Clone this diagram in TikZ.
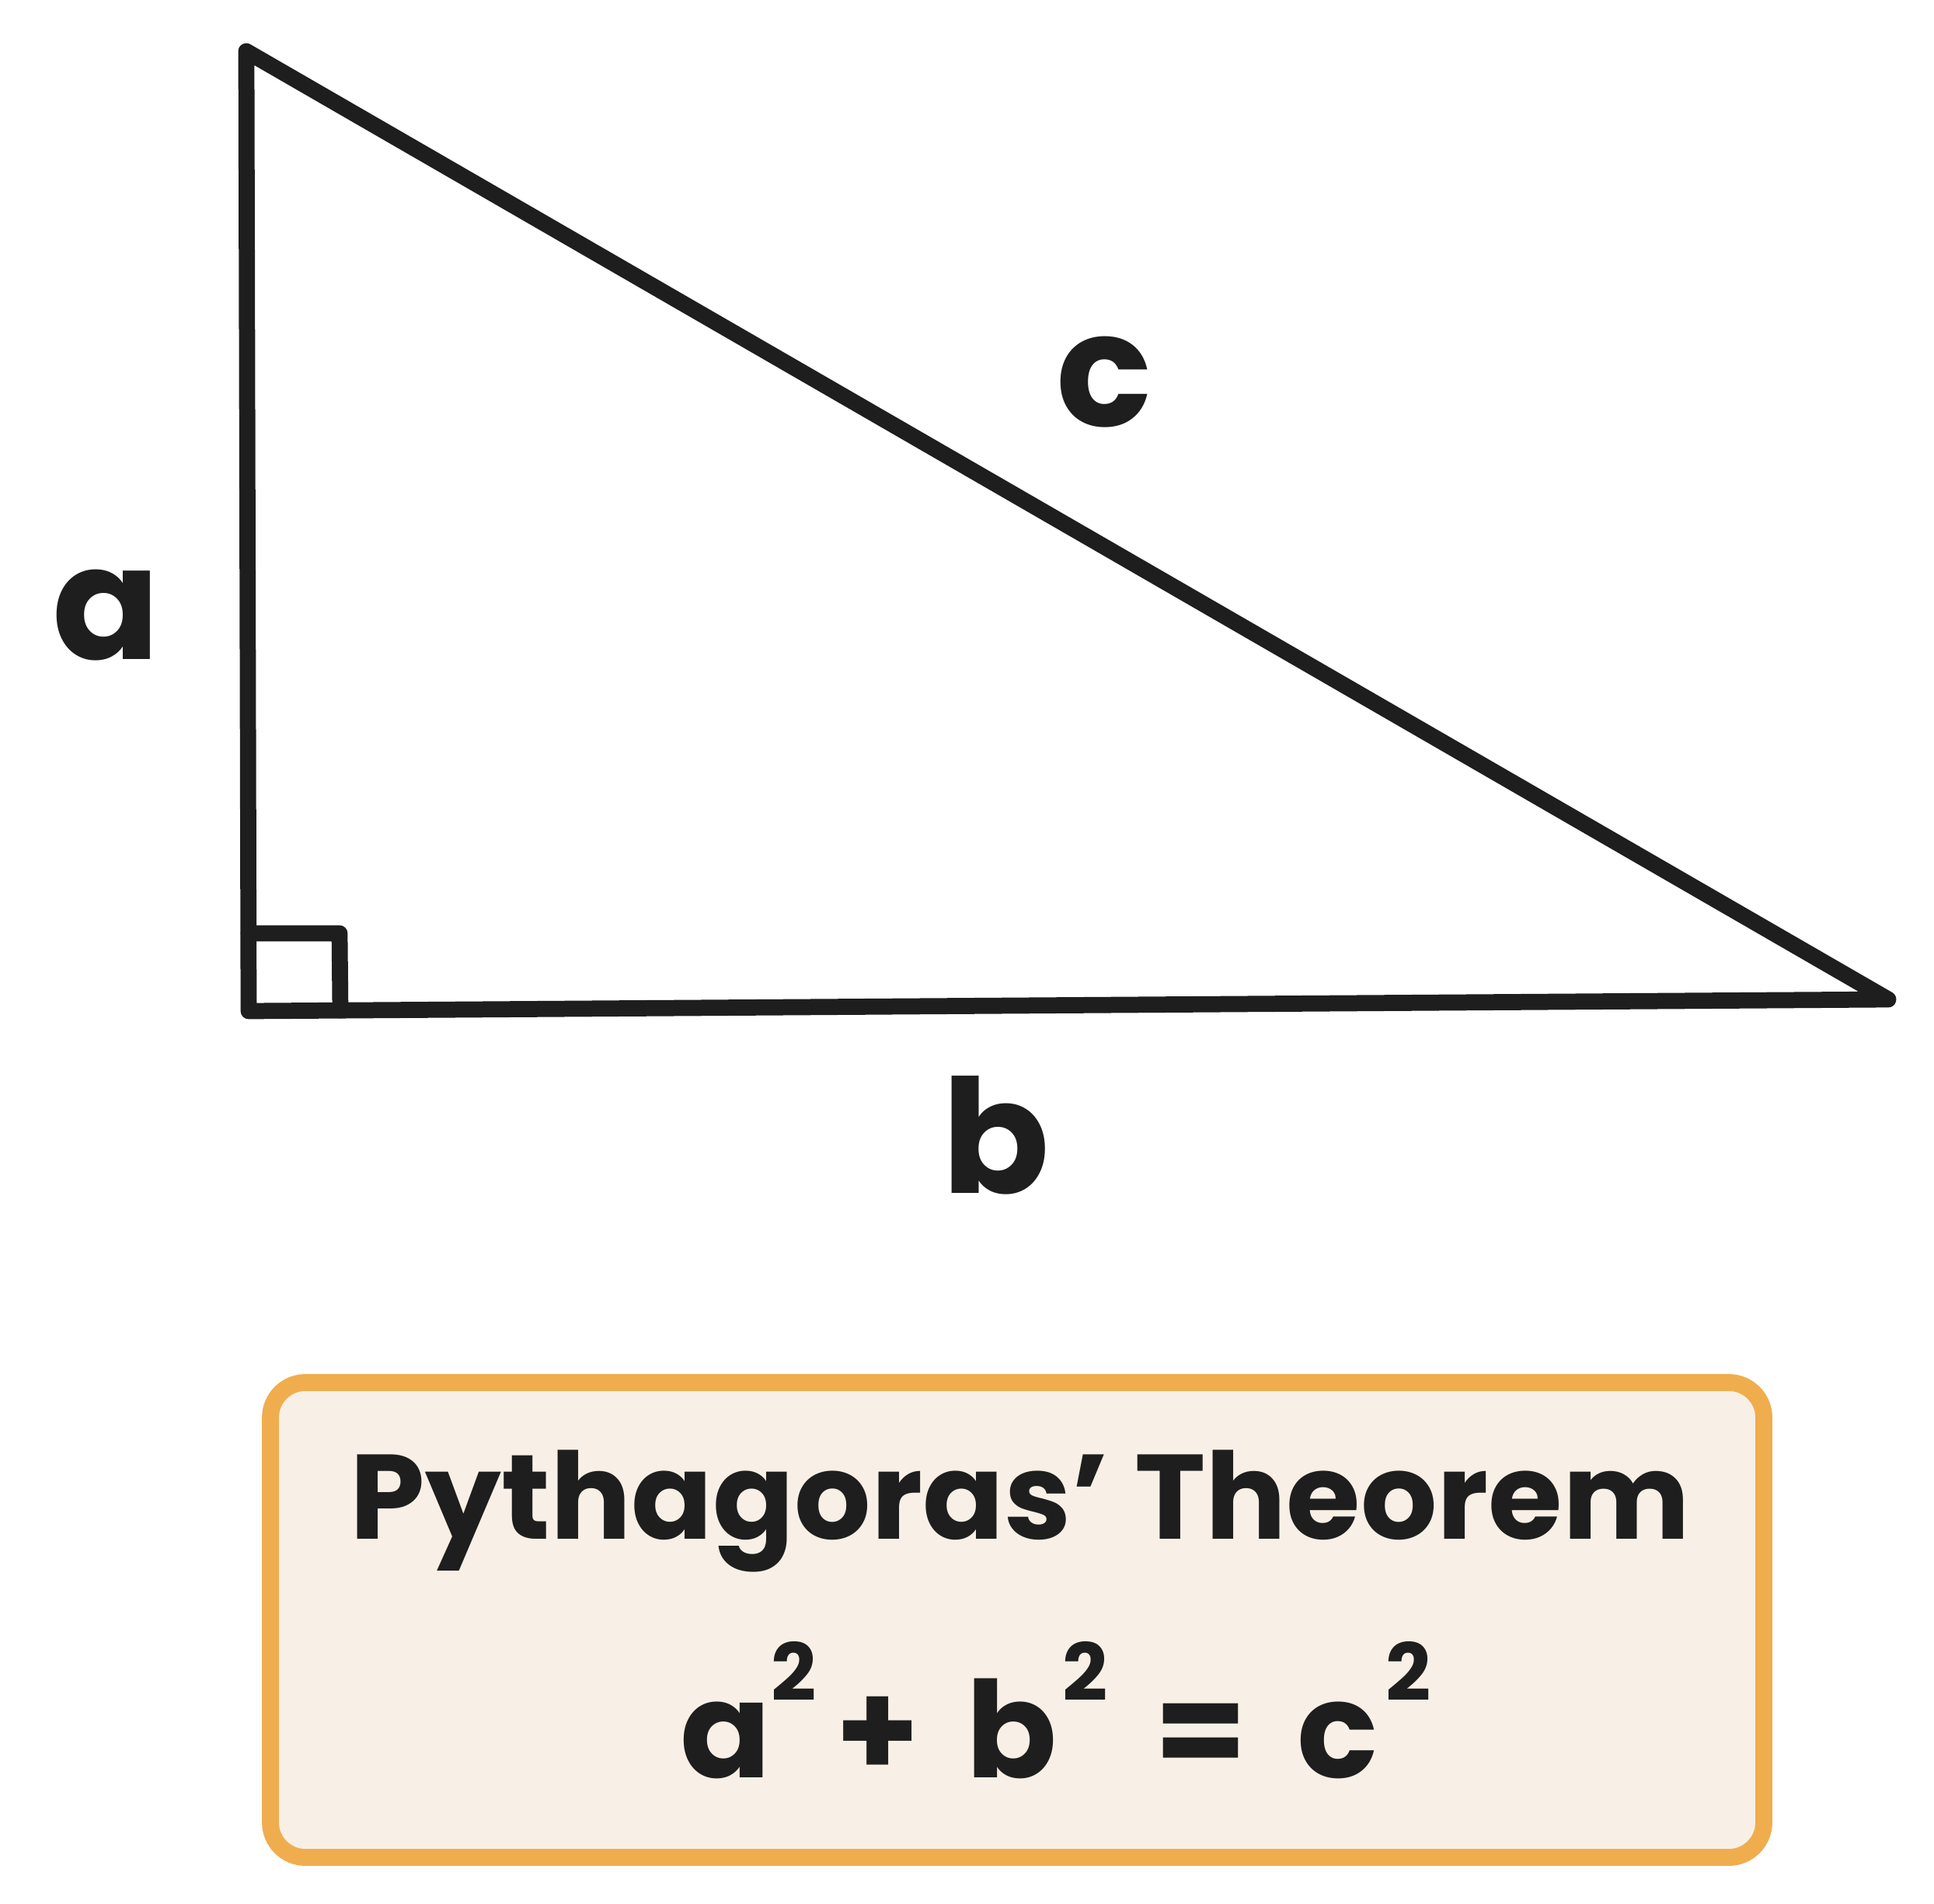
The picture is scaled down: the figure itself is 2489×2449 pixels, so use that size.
\documentclass[tikz,border=0pt]{standalone}
\usepackage{fontspec}
\setmainfont{Poppins}
\definecolor{ink}{HTML}{1E1E1E}
\definecolor{boxfill}{HTML}{F8F0E6}
\definecolor{boxline}{HTML}{F0AD4E}
\newcommand{\mysq}{\raisebox{28pt}{\fontsize{29}{30}\selectfont 2}}
\tikzset{
  edge/.style={draw=ink, line width=5.9pt, line join=round, line cap=round},
  lbl/.style={text=ink, font=\bfseries\fontsize{58}{60}\selectfont, inner sep=0pt},
  boxtext/.style={text=ink, font=\bfseries\fontsize{44}{46}\selectfont, inner sep=0pt, anchor=base},
}
\begin{document}
\begin{tikzpicture}[x=0.01cm,y=-0.01cm]
\useasboundingbox (0,0) rectangle (2489,2449);
% vertices
\coordinate (T) at (317,66);
\coordinate (L) at (320,1301);
\coordinate (R) at (2430,1286);
\coordinate (S1) at (320,1201);
\coordinate (S2) at (437,1201);
\coordinate (S3) at (438,1300);
\draw[edge] (T) -- (L) -- (R) -- cycle;
\draw[edge] (S1) -- (S2) -- (S3);
% labels
\node[lbl] (la) at (137,792) {a};
\node[lbl] (lc) at (1421,492) {c};
\node[lbl] (lb) at (1282,1461) {b};
% box
\draw[draw=boxline, fill=boxfill, line width=6.2pt, rounded corners=0.45cm]
  (348,1779) rectangle (2270,2390);
\node[boxtext] (title) at (1313,1980) {Pythagoras' Theorem};
\node[boxtext, font=\bfseries\fontsize{49}{50}\selectfont] (eq) at (1359,2287)
  {a\mysq\hspace{7pt}+\hspace{17pt}b\hspace{2pt}\mysq\hspace{17pt}=\hspace{18pt}c\hspace{3pt}\mysq};
\end{tikzpicture}
\end{document}
